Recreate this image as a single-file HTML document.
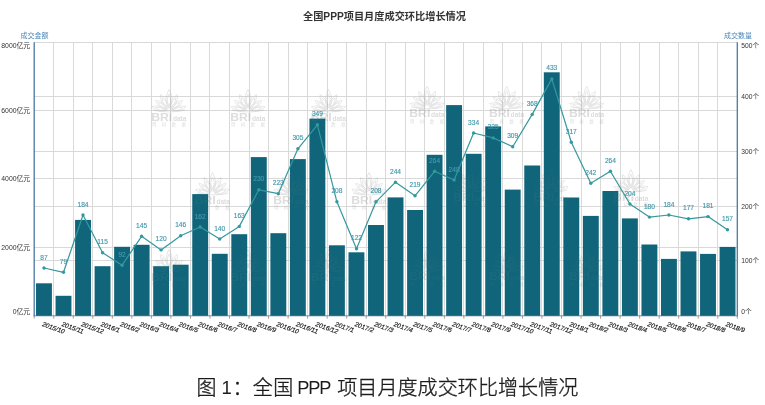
<!DOCTYPE html>
<html lang="zh-CN">
<head>
<meta charset="utf-8">
<title>全国PPP项目月度成交环比增长情况</title>
<style>
html,body{margin:0;padding:0;background:#fff;}
body{width:765px;height:405px;overflow:hidden;position:relative;font-family:"Liberation Sans","Noto Sans CJK SC",sans-serif;}
svg{position:absolute;left:0;top:0;display:block}
svg text{font-family:"Liberation Sans","Noto Sans CJK SC",sans-serif;}
.cap{position:absolute;left:0;top:373px;width:765px;height:30px;font-size:20px;line-height:30px;color:#1c1c1c;font-weight:300;white-space:pre;-webkit-text-stroke:0.35px #1c1c1c;margin:0}
.cap span{position:absolute;top:0;white-space:pre}
</style>
</head>
<body>
<svg width="765" height="405" viewBox="0 0 765 405">

<text x="384.5" y="20.2" text-anchor="middle" font-size="10.2" font-weight="bold" fill="#333">全国PPP项目月度成交环比增长情况</text>
<g stroke="#d9d9d9" stroke-width="1" fill="none" shape-rendering="crispEdges">
<line x1="53.73" y1="42.3" x2="53.73" y2="315.5"/>
<line x1="73.26" y1="42.3" x2="73.26" y2="315.5"/>
<line x1="92.79" y1="42.3" x2="92.79" y2="315.5"/>
<line x1="112.32" y1="42.3" x2="112.32" y2="315.5"/>
<line x1="131.85" y1="42.3" x2="131.85" y2="315.5"/>
<line x1="151.38" y1="42.3" x2="151.38" y2="315.5"/>
<line x1="170.91" y1="42.3" x2="170.91" y2="315.5"/>
<line x1="190.44" y1="42.3" x2="190.44" y2="315.5"/>
<line x1="209.97" y1="42.3" x2="209.97" y2="315.5"/>
<line x1="229.51" y1="42.3" x2="229.51" y2="315.5"/>
<line x1="249.04" y1="42.3" x2="249.04" y2="315.5"/>
<line x1="268.57" y1="42.3" x2="268.57" y2="315.5"/>
<line x1="288.10" y1="42.3" x2="288.10" y2="315.5"/>
<line x1="307.63" y1="42.3" x2="307.63" y2="315.5"/>
<line x1="327.16" y1="42.3" x2="327.16" y2="315.5"/>
<line x1="346.69" y1="42.3" x2="346.69" y2="315.5"/>
<line x1="366.22" y1="42.3" x2="366.22" y2="315.5"/>
<line x1="385.75" y1="42.3" x2="385.75" y2="315.5"/>
<line x1="405.28" y1="42.3" x2="405.28" y2="315.5"/>
<line x1="424.81" y1="42.3" x2="424.81" y2="315.5"/>
<line x1="444.34" y1="42.3" x2="444.34" y2="315.5"/>
<line x1="463.87" y1="42.3" x2="463.87" y2="315.5"/>
<line x1="483.40" y1="42.3" x2="483.40" y2="315.5"/>
<line x1="502.93" y1="42.3" x2="502.93" y2="315.5"/>
<line x1="522.46" y1="42.3" x2="522.46" y2="315.5"/>
<line x1="541.99" y1="42.3" x2="541.99" y2="315.5"/>
<line x1="561.52" y1="42.3" x2="561.52" y2="315.5"/>
<line x1="581.06" y1="42.3" x2="581.06" y2="315.5"/>
<line x1="600.59" y1="42.3" x2="600.59" y2="315.5"/>
<line x1="620.12" y1="42.3" x2="620.12" y2="315.5"/>
<line x1="639.65" y1="42.3" x2="639.65" y2="315.5"/>
<line x1="659.18" y1="42.3" x2="659.18" y2="315.5"/>
<line x1="678.71" y1="42.3" x2="678.71" y2="315.5"/>
<line x1="698.24" y1="42.3" x2="698.24" y2="315.5"/>
<line x1="717.77" y1="42.3" x2="717.77" y2="315.5"/>
<line x1="34.2" y1="247.20" x2="737.3" y2="247.20"/>
<line x1="34.2" y1="178.90" x2="737.3" y2="178.90"/>
<line x1="34.2" y1="110.60" x2="737.3" y2="110.60"/>
<line x1="34.2" y1="42.30" x2="737.3" y2="42.30"/>
<line x1="34.2" y1="260.86" x2="737.3" y2="260.86"/>
<line x1="34.2" y1="206.22" x2="737.3" y2="206.22"/>
<line x1="34.2" y1="151.58" x2="737.3" y2="151.58"/>
<line x1="34.2" y1="96.94" x2="737.3" y2="96.94"/>
<line x1="34.2" y1="42.30" x2="737.3" y2="42.30"/>
</g>
<g stroke="#4878a6" fill="none">
<line x1="34.2" y1="42.3" x2="34.2" y2="316.2" stroke-width="1.3"/>
<line x1="737.3" y1="42.3" x2="737.3" y2="316.2" stroke-width="1.3"/>
<line x1="33.6" y1="315.8" x2="737.9" y2="315.8" stroke-width="0.8"/>
</g>
<defs><g id="wm">
<g fill="none" stroke="#999" stroke-width="0.7" transform="translate(17.5,21.5)">
<path transform="rotate(0) scale(1.0)" d="M0,-3 C-4.5,-8 -3.5,-15 0,-21.5 C3.5,-15 4.5,-8 0,-3Z M0,-5 C-2.4,-9 -2,-13 0,-17 C2,-13 2.4,-9 0,-5Z"/>
<path transform="rotate(-27) scale(0.86)" d="M0,-3 C-4.5,-8 -3.5,-15 0,-21.5 C3.5,-15 4.5,-8 0,-3Z M0,-5 C-2.4,-9 -2,-13 0,-17 C2,-13 2.4,-9 0,-5Z"/>
<path transform="rotate(27) scale(0.86)" d="M0,-3 C-4.5,-8 -3.5,-15 0,-21.5 C3.5,-15 4.5,-8 0,-3Z M0,-5 C-2.4,-9 -2,-13 0,-17 C2,-13 2.4,-9 0,-5Z"/>
<path transform="rotate(-52) scale(0.8)" d="M0,-3 C-4.5,-8 -3.5,-15 0,-21.5 C3.5,-15 4.5,-8 0,-3Z M0,-5 C-2.4,-9 -2,-13 0,-17 C2,-13 2.4,-9 0,-5Z"/>
<path transform="rotate(52) scale(0.8)" d="M0,-3 C-4.5,-8 -3.5,-15 0,-21.5 C3.5,-15 4.5,-8 0,-3Z M0,-5 C-2.4,-9 -2,-13 0,-17 C2,-13 2.4,-9 0,-5Z"/>
<path transform="rotate(-76) scale(0.82)" d="M0,-3 C-4.5,-8 -3.5,-15 0,-21.5 C3.5,-15 4.5,-8 0,-3Z M0,-5 C-2.4,-9 -2,-13 0,-17 C2,-13 2.4,-9 0,-5Z"/>
<path transform="rotate(76) scale(0.82)" d="M0,-3 C-4.5,-8 -3.5,-15 0,-21.5 C3.5,-15 4.5,-8 0,-3Z M0,-5 C-2.4,-9 -2,-13 0,-17 C2,-13 2.4,-9 0,-5Z"/>
<path d="M-16,-1 C-8,1.5 8,1.5 16,-1"/>
</g>
<text x="-0.3" y="31" font-size="11.2" font-weight="bold" fill="#999" textLength="21" lengthAdjust="spacingAndGlyphs">BRI</text>
<text x="21.4" y="31" font-size="6.4" font-weight="bold" fill="#999" textLength="13.6" lengthAdjust="spacingAndGlyphs">data</text>
<text x="0.5" y="36.6" font-size="4.2" fill="#999" textLength="34" lengthAdjust="spacing">明树数据</text>
</g></defs>
<g opacity="0.27">
<use href="#wm" x="151.5" y="89.5"/>
<use href="#wm" x="230.5" y="89.5"/>
<use href="#wm" x="311.0" y="89.5"/>
<use href="#wm" x="409.6" y="86.3"/>
<use href="#wm" x="489.2" y="86.3"/>
<use href="#wm" x="569.2" y="86.3"/>
<use href="#wm" x="195.0" y="172.5"/>
<use href="#wm" x="273.5" y="172.5"/>
<use href="#wm" x="351.5" y="172.5"/>
<use href="#wm" x="453.5" y="169.6"/>
<use href="#wm" x="533.5" y="169.6"/>
<use href="#wm" x="613.4" y="169.6"/>
<use href="#wm" x="151.5" y="249.5"/>
<use href="#wm" x="230.5" y="249.5"/>
<use href="#wm" x="311.0" y="249.5"/>
<use href="#wm" x="409.6" y="249"/>
<use href="#wm" x="489.2" y="249"/>
<use href="#wm" x="569.2" y="249"/>
</g>
<g fill="#10657a">
<rect x="36.02" y="283.3" width="15.9" height="32.5"/>
<rect x="55.55" y="295.8" width="15.9" height="20.0"/>
<rect x="75.08" y="219.9" width="15.9" height="95.9"/>
<rect x="94.61" y="266.2" width="15.9" height="49.6"/>
<rect x="114.14" y="246.8" width="15.9" height="69.0"/>
<rect x="133.67" y="244.8" width="15.9" height="71.0"/>
<rect x="153.20" y="266.2" width="15.9" height="49.6"/>
<rect x="172.73" y="264.7" width="15.9" height="51.1"/>
<rect x="192.26" y="194.1" width="15.9" height="121.7"/>
<rect x="211.79" y="253.8" width="15.9" height="62.0"/>
<rect x="231.32" y="234.2" width="15.9" height="81.6"/>
<rect x="250.85" y="157.1" width="15.9" height="158.7"/>
<rect x="270.38" y="233.2" width="15.9" height="82.6"/>
<rect x="289.91" y="159.1" width="15.9" height="156.7"/>
<rect x="309.44" y="118.6" width="15.9" height="197.2"/>
<rect x="328.97" y="245.3" width="15.9" height="70.5"/>
<rect x="348.50" y="252.3" width="15.9" height="63.5"/>
<rect x="368.03" y="225.0" width="15.9" height="90.8"/>
<rect x="387.57" y="197.4" width="15.9" height="118.4"/>
<rect x="407.10" y="210.0" width="15.9" height="105.8"/>
<rect x="426.63" y="154.8" width="15.9" height="161.0"/>
<rect x="446.16" y="105.1" width="15.9" height="210.7"/>
<rect x="465.69" y="153.8" width="15.9" height="162.0"/>
<rect x="485.22" y="126.4" width="15.9" height="189.4"/>
<rect x="504.75" y="189.6" width="15.9" height="126.2"/>
<rect x="524.28" y="165.5" width="15.9" height="150.3"/>
<rect x="543.81" y="72.3" width="15.9" height="243.5"/>
<rect x="563.34" y="197.5" width="15.9" height="118.3"/>
<rect x="582.87" y="215.9" width="15.9" height="99.9"/>
<rect x="602.40" y="191.0" width="15.9" height="124.8"/>
<rect x="621.93" y="218.4" width="15.9" height="97.4"/>
<rect x="641.46" y="244.5" width="15.9" height="71.3"/>
<rect x="660.99" y="258.9" width="15.9" height="56.9"/>
<rect x="680.52" y="251.4" width="15.9" height="64.4"/>
<rect x="700.05" y="253.9" width="15.9" height="61.9"/>
<rect x="719.58" y="246.9" width="15.9" height="68.9"/>
</g>
<g stroke="#777" stroke-width="0.7">
<line x1="34.20" y1="316.0" x2="34.20" y2="318.7"/>
<line x1="53.73" y1="316.0" x2="53.73" y2="318.7"/>
<line x1="73.26" y1="316.0" x2="73.26" y2="318.7"/>
<line x1="92.79" y1="316.0" x2="92.79" y2="318.7"/>
<line x1="112.32" y1="316.0" x2="112.32" y2="318.7"/>
<line x1="131.85" y1="316.0" x2="131.85" y2="318.7"/>
<line x1="151.38" y1="316.0" x2="151.38" y2="318.7"/>
<line x1="170.91" y1="316.0" x2="170.91" y2="318.7"/>
<line x1="190.44" y1="316.0" x2="190.44" y2="318.7"/>
<line x1="209.97" y1="316.0" x2="209.97" y2="318.7"/>
<line x1="229.51" y1="316.0" x2="229.51" y2="318.7"/>
<line x1="249.04" y1="316.0" x2="249.04" y2="318.7"/>
<line x1="268.57" y1="316.0" x2="268.57" y2="318.7"/>
<line x1="288.10" y1="316.0" x2="288.10" y2="318.7"/>
<line x1="307.63" y1="316.0" x2="307.63" y2="318.7"/>
<line x1="327.16" y1="316.0" x2="327.16" y2="318.7"/>
<line x1="346.69" y1="316.0" x2="346.69" y2="318.7"/>
<line x1="366.22" y1="316.0" x2="366.22" y2="318.7"/>
<line x1="385.75" y1="316.0" x2="385.75" y2="318.7"/>
<line x1="405.28" y1="316.0" x2="405.28" y2="318.7"/>
<line x1="424.81" y1="316.0" x2="424.81" y2="318.7"/>
<line x1="444.34" y1="316.0" x2="444.34" y2="318.7"/>
<line x1="463.87" y1="316.0" x2="463.87" y2="318.7"/>
<line x1="483.40" y1="316.0" x2="483.40" y2="318.7"/>
<line x1="502.93" y1="316.0" x2="502.93" y2="318.7"/>
<line x1="522.46" y1="316.0" x2="522.46" y2="318.7"/>
<line x1="541.99" y1="316.0" x2="541.99" y2="318.7"/>
<line x1="561.52" y1="316.0" x2="561.52" y2="318.7"/>
<line x1="581.06" y1="316.0" x2="581.06" y2="318.7"/>
<line x1="600.59" y1="316.0" x2="600.59" y2="318.7"/>
<line x1="620.12" y1="316.0" x2="620.12" y2="318.7"/>
<line x1="639.65" y1="316.0" x2="639.65" y2="318.7"/>
<line x1="659.18" y1="316.0" x2="659.18" y2="318.7"/>
<line x1="678.71" y1="316.0" x2="678.71" y2="318.7"/>
<line x1="698.24" y1="316.0" x2="698.24" y2="318.7"/>
<line x1="717.77" y1="316.0" x2="717.77" y2="318.7"/>
<line x1="737.30" y1="316.0" x2="737.30" y2="318.7"/>
</g>
<polyline fill="none" stroke="#34989e" stroke-width="1.2" stroke-linejoin="round" points="44.0,268.0 63.5,272.3 83.0,215.0 102.6,252.7 122.1,265.2 141.6,236.3 161.1,249.9 180.7,235.7 200.2,227.0 219.7,239.0 239.3,226.4 258.8,189.8 278.3,193.7 297.9,148.8 317.4,124.8 336.9,201.8 356.5,248.8 376.0,201.8 395.5,182.2 415.0,195.8 434.6,171.3 454.1,180.0 473.6,133.0 493.2,137.9 512.7,146.7 532.2,114.4 551.8,78.9 571.3,142.3 590.8,183.3 610.4,171.3 629.9,204.0 649.4,217.1 668.9,215.0 688.5,218.8 708.0,216.6 727.5,229.7"/>
<g fill="#34989e">
<circle cx="44.0" cy="268.0" r="1.7"/>
<circle cx="63.5" cy="272.3" r="1.7"/>
<circle cx="83.0" cy="215.0" r="1.7"/>
<circle cx="102.6" cy="252.7" r="1.7"/>
<circle cx="122.1" cy="265.2" r="1.7"/>
<circle cx="141.6" cy="236.3" r="1.7"/>
<circle cx="161.1" cy="249.9" r="1.7"/>
<circle cx="180.7" cy="235.7" r="1.7"/>
<circle cx="200.2" cy="227.0" r="1.7"/>
<circle cx="219.7" cy="239.0" r="1.7"/>
<circle cx="239.3" cy="226.4" r="1.7"/>
<circle cx="258.8" cy="189.8" r="1.7"/>
<circle cx="278.3" cy="193.7" r="1.7"/>
<circle cx="297.9" cy="148.8" r="1.7"/>
<circle cx="317.4" cy="124.8" r="1.7"/>
<circle cx="336.9" cy="201.8" r="1.7"/>
<circle cx="356.5" cy="248.8" r="1.7"/>
<circle cx="376.0" cy="201.8" r="1.7"/>
<circle cx="395.5" cy="182.2" r="1.7"/>
<circle cx="415.0" cy="195.8" r="1.7"/>
<circle cx="434.6" cy="171.3" r="1.7"/>
<circle cx="454.1" cy="180.0" r="1.7"/>
<circle cx="473.6" cy="133.0" r="1.7"/>
<circle cx="493.2" cy="137.9" r="1.7"/>
<circle cx="512.7" cy="146.7" r="1.7"/>
<circle cx="532.2" cy="114.4" r="1.7"/>
<circle cx="551.8" cy="78.9" r="1.7"/>
<circle cx="571.3" cy="142.3" r="1.7"/>
<circle cx="590.8" cy="183.3" r="1.7"/>
<circle cx="610.4" cy="171.3" r="1.7"/>
<circle cx="629.9" cy="204.0" r="1.7"/>
<circle cx="649.4" cy="217.1" r="1.7"/>
<circle cx="668.9" cy="215.0" r="1.7"/>
<circle cx="688.5" cy="218.8" r="1.7"/>
<circle cx="708.0" cy="216.6" r="1.7"/>
<circle cx="727.5" cy="229.7" r="1.7"/>
</g>
<g font-size="6.6" fill="#4299ac" stroke="#4299ac" stroke-width="0.15" text-anchor="middle">
<text x="44.0" y="259.5">87</text>
<text x="63.5" y="263.8">79</text>
<text x="83.0" y="206.5">184</text>
<text x="102.6" y="244.2">115</text>
<text x="122.1" y="256.7">92</text>
<text x="141.6" y="227.8">145</text>
<text x="161.1" y="241.4">120</text>
<text x="180.7" y="227.2">146</text>
<text x="200.2" y="218.5">162</text>
<text x="219.7" y="230.5">140</text>
<text x="239.3" y="217.9">163</text>
<text x="258.8" y="181.3">230</text>
<text x="278.3" y="185.2">223</text>
<text x="297.9" y="140.3">305</text>
<text x="317.4" y="116.3">349</text>
<text x="336.9" y="193.3">208</text>
<text x="356.5" y="240.3">122</text>
<text x="376.0" y="193.3">208</text>
<text x="395.5" y="173.7">244</text>
<text x="415.0" y="187.3">219</text>
<text x="434.6" y="162.8">264</text>
<text x="454.1" y="171.5">248</text>
<text x="473.6" y="124.5">334</text>
<text x="493.2" y="129.4">325</text>
<text x="512.7" y="138.2">309</text>
<text x="532.2" y="105.9">368</text>
<text x="551.8" y="70.4">433</text>
<text x="571.3" y="133.8">317</text>
<text x="590.8" y="174.8">242</text>
<text x="610.4" y="162.8">264</text>
<text x="629.9" y="195.5">204</text>
<text x="649.4" y="208.6">180</text>
<text x="668.9" y="206.5">184</text>
<text x="688.5" y="210.3">177</text>
<text x="708.0" y="208.1">181</text>
<text x="727.5" y="221.2">157</text>
</g>
<g font-size="6.85" fill="#333" text-anchor="end">
<text x="30.200000000000003" y="313.9">0亿元</text>
<text x="30.200000000000003" y="249.7">2000亿元</text>
<text x="30.200000000000003" y="181.4">4000亿元</text>
<text x="30.200000000000003" y="113.1">6000亿元</text>
<text x="30.200000000000003" y="48.1">8000亿元</text>
</g>
<g font-size="6.7" fill="#333" text-anchor="start">
<text x="741.3" y="313.9">0个</text>
<text x="741.3" y="263.4">100个</text>
<text x="741.3" y="208.7">200个</text>
<text x="741.3" y="154.1">300个</text>
<text x="741.3" y="99.4">400个</text>
<text x="741.3" y="48.0">500个</text>
</g>
<text x="34.6" y="37.8" font-size="7" fill="#4a86b8" text-anchor="middle">成交金额</text>
<text x="738.0" y="37.8" font-size="7" fill="#4a86b8" text-anchor="middle">成交数量</text>
<g font-size="6.5" fill="#222" stroke="#222" stroke-width="0.18">
<text transform="translate(41.4,325.8) rotate(20) skewX(-10)">2015/10</text>
<text transform="translate(60.9,325.8) rotate(20) skewX(-10)">2015/11</text>
<text transform="translate(80.4,325.8) rotate(20) skewX(-10)">2015/12</text>
<text transform="translate(100.0,325.8) rotate(20) skewX(-10)">2016/1</text>
<text transform="translate(119.5,325.8) rotate(20) skewX(-10)">2016/2</text>
<text transform="translate(139.0,325.8) rotate(20) skewX(-10)">2016/3</text>
<text transform="translate(158.5,325.8) rotate(20) skewX(-10)">2016/4</text>
<text transform="translate(178.1,325.8) rotate(20) skewX(-10)">2016/5</text>
<text transform="translate(197.6,325.8) rotate(20) skewX(-10)">2016/6</text>
<text transform="translate(217.1,325.8) rotate(20) skewX(-10)">2016/7</text>
<text transform="translate(236.7,325.8) rotate(20) skewX(-10)">2016/8</text>
<text transform="translate(256.2,325.8) rotate(20) skewX(-10)">2016/9</text>
<text transform="translate(275.7,325.8) rotate(20) skewX(-10)">2016/10</text>
<text transform="translate(295.3,325.8) rotate(20) skewX(-10)">2016/11</text>
<text transform="translate(314.8,325.8) rotate(20) skewX(-10)">2016/12</text>
<text transform="translate(334.3,325.8) rotate(20) skewX(-10)">2017/1</text>
<text transform="translate(353.9,325.8) rotate(20) skewX(-10)">2017/2</text>
<text transform="translate(373.4,325.8) rotate(20) skewX(-10)">2017/3</text>
<text transform="translate(392.9,325.8) rotate(20) skewX(-10)">2017/4</text>
<text transform="translate(412.4,325.8) rotate(20) skewX(-10)">2017/5</text>
<text transform="translate(432.0,325.8) rotate(20) skewX(-10)">2017/6</text>
<text transform="translate(451.5,325.8) rotate(20) skewX(-10)">2017/7</text>
<text transform="translate(471.0,325.8) rotate(20) skewX(-10)">2017/8</text>
<text transform="translate(490.6,325.8) rotate(20) skewX(-10)">2017/9</text>
<text transform="translate(510.1,325.8) rotate(20) skewX(-10)">2017/10</text>
<text transform="translate(529.6,325.8) rotate(20) skewX(-10)">2017/11</text>
<text transform="translate(549.2,325.8) rotate(20) skewX(-10)">2017/12</text>
<text transform="translate(568.7,325.8) rotate(20) skewX(-10)">2018/1</text>
<text transform="translate(588.2,325.8) rotate(20) skewX(-10)">2018/2</text>
<text transform="translate(607.8,325.8) rotate(20) skewX(-10)">2018/3</text>
<text transform="translate(627.3,325.8) rotate(20) skewX(-10)">2018/4</text>
<text transform="translate(646.8,325.8) rotate(20) skewX(-10)">2018/5</text>
<text transform="translate(666.3,325.8) rotate(20) skewX(-10)">2018/6</text>
<text transform="translate(685.9,325.8) rotate(20) skewX(-10)">2018/7</text>
<text transform="translate(705.4,325.8) rotate(20) skewX(-10)">2018/8</text>
<text transform="translate(724.9,325.8) rotate(20) skewX(-10)">2018/9</text>
</g>
<g opacity="0.08">
<use href="#wm" x="151.5" y="89.5"/>
<use href="#wm" x="230.5" y="89.5"/>
<use href="#wm" x="311.0" y="89.5"/>
<use href="#wm" x="409.6" y="86.3"/>
<use href="#wm" x="489.2" y="86.3"/>
<use href="#wm" x="569.2" y="86.3"/>
<use href="#wm" x="195.0" y="172.5"/>
<use href="#wm" x="273.5" y="172.5"/>
<use href="#wm" x="351.5" y="172.5"/>
<use href="#wm" x="453.5" y="169.6"/>
<use href="#wm" x="533.5" y="169.6"/>
<use href="#wm" x="613.4" y="169.6"/>
<use href="#wm" x="151.5" y="249.5"/>
<use href="#wm" x="230.5" y="249.5"/>
<use href="#wm" x="311.0" y="249.5"/>
<use href="#wm" x="409.6" y="249"/>
<use href="#wm" x="489.2" y="249"/>
<use href="#wm" x="569.2" y="249"/>
</g>
</svg>
<p class="cap"><span style="left:196.6px">图 </span><span style="left:221.5px;font-size:18.5px;-webkit-text-stroke:0">1</span><span style="left:232.4px">： </span><span style="left:252.7px;letter-spacing:0.6px">全国 </span><span style="left:297.3px;font-size:18.2px;letter-spacing:-1.15px;-webkit-text-stroke:0">PPP </span><span style="left:337.2px;letter-spacing:0.1px">项目月度成交环比增长情况</span></p>
</body></html>
